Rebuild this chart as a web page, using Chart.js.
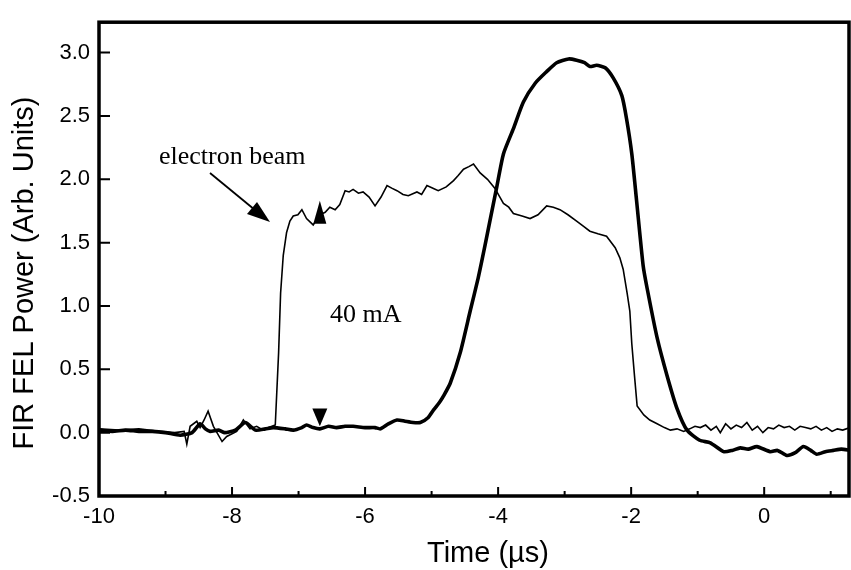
<!DOCTYPE html>
<html>
<head>
<meta charset="utf-8">
<script src="https://cdn.jsdelivr.net/npm/chart.js@4.4.0/dist/chart.umd.min.js"></script>
<style>
    body { margin: 0; background: #fff; }
    #grafico { display: block; }
</style>
</head>
<body>
<canvas id="grafico" width="851" height="570"></canvas>
<script>
// electron beam current (thin trace)
const thinTime = [-10, -9.7, -9.4, -9.1, -8.86, -8.72, -8.68, -8.63, -8.53, -8.48, -8.42, -8.36, -8.28, -8.15, -8.08,
    -7.93, -7.83, -7.73, -7.63, -7.53, -7.45, -7.35, -7.30, -7.27, -7.23, -7.18, -7.13, -7.08, -7.01, -6.95,
    -6.88, -6.78, -6.68, -6.6, -6.53, -6.45, -6.38, -6.30, -6.24, -6.18, -6.1, -6.03, -5.94, -5.85, -5.76,
    -5.67, -5.6, -5.52, -5.43, -5.35, -5.22, -5.15, -5.07, -4.98, -4.90, -4.78, -4.67, -4.6, -4.52, -4.44,
    -4.37, -4.27, -4.16, -4.05, -3.92, -3.84, -3.77, -3.64, -3.52, -3.4, -3.27, -3.17, -3.07, -2.95, -2.82,
    -2.72, -2.62, -2.5, -2.37, -2.24, -2.17, -2.12, -2.06, -2.02, -1.99, -1.95, -1.91, -1.81, -1.72, -1.61,
    -1.5, -1.41, -1.31, -1.21, -1.12, -1.04, -0.96, -0.88, -0.8, -0.72, -0.66, -0.58, -0.5, -0.42, -0.34,
    -0.26, -0.18, -0.1, -0.02, 0.06, 0.14, 0.22, 0.3, 0.38, 0.46, 0.54, 0.62, 0.7, 0.78, 0.86,
    0.94, 1.02, 1.1, 1.18, 1.29];
const thinPower = [0.03, 0.02, 0.03, 0.01, 0.0, 0.01, -0.09, 0.05, 0.09, 0.04, 0.10, 0.17, 0.05, -0.07, -0.03,
    0.01, 0.10, 0.03, 0.05, 0.02, 0.04, 0.06, 0.63, 1.10, 1.40, 1.58, 1.67, 1.71, 1.72, 1.76,
    1.69, 1.64, 1.72, 1.74, 1.78, 1.76, 1.80, 1.91, 1.90, 1.92, 1.89, 1.90, 1.86, 1.79, 1.86,
    1.95, 1.93, 1.91, 1.88, 1.87, 1.90, 1.88, 1.95, 1.93, 1.91, 1.94, 1.99, 2.03, 2.08, 2.10,
    2.12, 2.05, 2.00, 1.93, 1.81, 1.78, 1.73, 1.71, 1.69, 1.72, 1.79, 1.78, 1.76, 1.72, 1.67,
    1.63, 1.59, 1.57, 1.55, 1.46, 1.38, 1.29, 1.10, 0.96, 0.70, 0.45, 0.21, 0.14, 0.10, 0.07,
    0.04, 0.02, 0.03, 0.01, 0.03, 0.05, 0.04, 0.06, 0.02, 0.05, 0.0, 0.07, 0.03, 0.06, 0.04,
    0.08, 0.02, 0.05, 0.0, 0.04, 0.03, 0.06, 0.04, 0.05, 0.02, 0.05, 0.04, 0.03, 0.05, 0.02,
    0.04, 0.01, 0.03, 0.02, 0.04];

// FIR FEL power (thick trace)
const thickTime = [-10, -9.8, -9.6, -9.4, -9.2, -9.0, -8.78, -8.6, -8.48, -8.4, -8.33, -8.2, -8.11, -7.95, -7.8,
    -7.65, -7.5, -7.38, -7.2, -7.08, -6.95, -6.88, -6.78, -6.68, -6.55, -6.43, -6.3, -6.18, -6.0, -5.85,
    -5.77, -5.65, -5.52, -5.4, -5.28, -5.17, -5.05, -4.97, -4.88, -4.82, -4.72, -4.57, -4.42, -4.30, -4.20,
    -4.12, -4.02, -3.92, -3.77, -3.62, -3.44, -3.27, -3.12, -2.94, -2.82, -2.70, -2.62, -2.52, -2.39, -2.27,
    -2.14, -2.07, -1.99, -1.92, -1.82, -1.76, -1.61, -1.46, -1.31, -1.16, -0.97, -0.81, -0.61, -0.48, -0.36,
    -0.24, -0.11, 0.09, 0.2, 0.34, 0.46, 0.59, 0.7, 0.79, 0.92, 1.04, 1.16, 1.29];
const thickPower = [0.02, 0.01, 0.02, 0.01, 0.01, 0.0, -0.02, 0.0, 0.07, 0.03, 0.01, 0.02, 0.0, 0.02, 0.08,
    0.02, 0.03, 0.04, 0.03, 0.02, 0.04, 0.06, 0.04, 0.03, 0.05, 0.04, 0.05, 0.05, 0.04, 0.04,
    0.03, 0.07, 0.10, 0.09, 0.08, 0.08, 0.12, 0.18, 0.24, 0.29, 0.39, 0.63, 0.96, 1.22, 1.47,
    1.68, 1.94, 2.20, 2.40, 2.61, 2.76, 2.85, 2.92, 2.95, 2.94, 2.92, 2.89, 2.90, 2.88, 2.80,
    2.66, 2.48, 2.20, 1.84, 1.32, 1.14, 0.75, 0.45, 0.19, 0.02, -0.06, -0.08, -0.15, -0.14, -0.12,
    -0.13, -0.11, -0.15, -0.14, -0.18, -0.16, -0.11, -0.14, -0.17, -0.15, -0.14, -0.13, -0.14];

const xTicks = [-10, -8, -6, -4, -2, 0];
const xMinorTicks = [-9, -7, -5, -3, -1, 1];
const yTicks = [-0.5, 0, 0.5, 1.0, 1.5, 2.0, 2.5, 3.0];

const sans = "'Liberation Sans', Arial, sans-serif";
const serif = "'Liberation Serif', 'Times New Roman', serif";

const toPoints = (xs, ys) => xs.map((x, i) => ({ x: x, y: ys[i] }));

// marco, marcas internas, titulos y anotaciones
const marcos = {
    id: 'marcos',
    afterDraw(chart) {
        const { ctx, chartArea: a } = chart;
        const sx = chart.scales.x;
        const sy = chart.scales.y;
        ctx.save();
        ctx.strokeStyle = '#000';
        ctx.fillStyle = '#000';

        // marcas
        ctx.lineWidth = 2;
        ctx.beginPath();
        xTicks.forEach(v => {
            const px = sx.getPixelForValue(v);
            ctx.moveTo(px, a.bottom);
            ctx.lineTo(px, a.bottom - 9);
        });
        xMinorTicks.forEach(v => {
            const px = sx.getPixelForValue(v);
            ctx.moveTo(px, a.bottom);
            ctx.lineTo(px, a.bottom - 5);
        });
        yTicks.forEach(v => {
            const py = sy.getPixelForValue(v);
            ctx.moveTo(a.left, py);
            ctx.lineTo(a.left + 11, py);
        });
        ctx.stroke();

        // marco
        ctx.lineWidth = 3.5;
        ctx.strokeRect(a.left, a.top, a.right - a.left - 1, a.bottom - a.top);

        // titulos
        ctx.font = "29px " + sans;
        ctx.textAlign = 'center';
        ctx.textBaseline = 'alphabetic';
        ctx.fillText('Time (\u00b5s)', 488, 562);
        ctx.save();
        ctx.translate(33, 273);
        ctx.rotate(-Math.PI / 2);
        ctx.fillText('FIR FEL Power (Arb. Units)', 0, 0);
        ctx.restore();

        // anotaciones
        ctx.font = "26px " + serif;
        ctx.textAlign = 'left';
        ctx.fillText('electron beam', 159, 164);
        ctx.fillText('40 mA', 330, 322);

        // flecha
        ctx.lineWidth = 1.8;
        ctx.beginPath();
        ctx.moveTo(210, 173);
        ctx.lineTo(255, 210);
        ctx.stroke();
        ctx.beginPath();
        ctx.moveTo(270, 222);
        ctx.lineTo(247, 214);
        ctx.lineTo(257, 202);
        ctx.closePath();
        ctx.fill();

        // triangulos
        const tx = sx.getPixelForValue(-6.68);
        ctx.beginPath();
        ctx.moveTo(tx, sy.getPixelForValue(1.83));
        ctx.lineTo(tx - 6.5, sy.getPixelForValue(1.65));
        ctx.lineTo(tx + 6.5, sy.getPixelForValue(1.65));
        ctx.closePath();
        ctx.fill();
        ctx.beginPath();
        ctx.moveTo(tx, sy.getPixelForValue(0.05));
        ctx.lineTo(tx - 7.5, sy.getPixelForValue(0.19));
        ctx.lineTo(tx + 7.5, sy.getPixelForValue(0.19));
        ctx.closePath();
        ctx.fill();

        ctx.restore();
    }
};

new Chart(document.getElementById('grafico'), {
    type: 'scatter',
    data: {
        datasets: [
            {
                label: 'electron beam',
                data: toPoints(thinTime, thinPower),
                showLine: true,
                borderColor: '#000',
                borderWidth: 1.6,
                pointRadius: 0,
                tension: 0
            },
            {
                label: 'FIR FEL power',
                data: toPoints(thickTime, thickPower),
                showLine: true,
                borderColor: '#000',
                borderWidth: 3.6,
                pointRadius: 0,
                tension: 0.2
            }
        ]
    },
    options: {
        responsive: false,
        animation: false,
        devicePixelRatio: 1,
        layout: { padding: { top: 12, right: 1, left: 0, bottom: 0 } },
        plugins: {
            legend: { display: false },
            tooltip: { enabled: false }
        },
        scales: {
            x: {
                type: 'linear',
                min: -10,
                max: 1.29,
                afterBuildTicks: s => { s.ticks = xTicks.map(v => ({ value: v })); },
                afterFit: s => { s.height = 74; },
                grid: { display: false, drawTicks: false },
                border: { display: false },
                ticks: {
                    color: '#000',
                    font: { family: sans, size: 22 },
                    padding: 8,
                    maxRotation: 0,
                    callback: v => String(v)
                }
            },
            y: {
                min: -0.5,
                max: 3.24,
                afterBuildTicks: s => { s.ticks = yTicks.map(v => ({ value: v })); },
                afterFit: s => { s.width = 99; },
                grid: { display: false, drawTicks: false },
                border: { display: false },
                ticks: {
                    color: '#000',
                    font: { family: sans, size: 22 },
                    padding: 9,
                    callback: v => v.toFixed(1)
                }
            }
        }
    },
    plugins: [marcos]
});
</script>
</body>
</html>
